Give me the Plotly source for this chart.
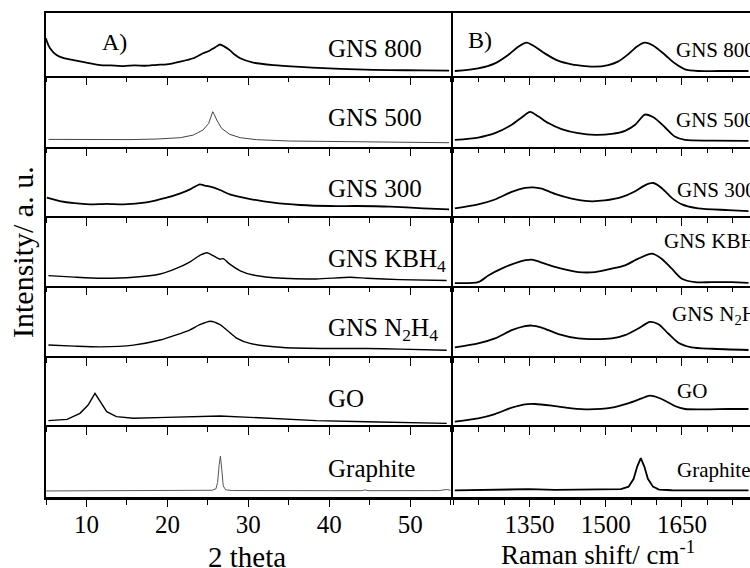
import plotly.graph_objects as go

# ---------------- data: XRD (2 theta, intensity a.u.) ----------------
xrd_names = ["GNS 800", "GNS 500", "GNS 300", "GNS KBH<sub>4</sub>", "GNS N<sub>2</sub>H<sub>4</sub>", "GO", "Graphite"]

xrd_800_x = [5.0, 5.1, 5.5, 6.3, 7.2, 8.4, 10.0, 11.7, 13.0, 14.6, 16.0, 17.4, 18.7, 19.9, 21.6, 23.2, 24.4, 25.2, 25.7, 26.2, 26.5, 27.0, 27.7, 28.3, 29.0, 30.6, 33.1, 36.4, 39.3, 43.4, 47.5, 51.6, 54.8]
xrd_800_y = [60, 55, 44, 33, 28, 25, 21, 17, 16.5, 15.5, 16.5, 16, 17.5, 18, 22.5, 28, 36, 40, 44, 48, 50, 47, 41, 34, 28, 21, 17, 14, 12, 10, 9, 8.5, 8]

xrd_500_x = [5.3, 8.0, 12.5, 15.5, 18.7, 21.6, 23.2, 24.4, 25.1, 25.4, 25.6, 25.8, 26.1, 26.7, 27.7, 29.0, 31.0, 35.1, 41.3, 49.6, 54.8]
xrd_500_y = [10.3, 10.0, 9.4, 10.0, 10.8, 12.7, 16.4, 23.5, 32.9, 42, 49.3, 45, 37.6, 25.8, 17.4, 12.7, 9.9, 8.0, 7.0, 6.1, 5.6]

xrd_300_x = [5.1, 6.7, 8.5, 10.4, 12.5, 14.6, 17.4, 19.9, 21.6, 22.8, 24.0, 24.6, 25.3, 26.5, 27.7, 29.8, 33.1, 36.4, 40.1, 43.4, 47.5, 51.6, 54.8]
xrd_300_y = [26.4, 21.6, 18.5, 16.8, 17.5, 16.8, 19.7, 26.4, 32.7, 38.5, 45.7, 44, 42.3, 37.5, 31.3, 25.5, 19.2, 15.9, 14.4, 14.4, 13.5, 11.1, 9.6]

xrd_kbh_x = [5.3, 8.5, 11.7, 15.8, 19.1, 21.1, 22.8, 24.0, 24.9, 25.7, 26.5, 26.9, 27.7, 29.0, 30.6, 34.3, 38.4, 42.6, 44.6, 48.7, 54.5]
xrd_kbh_y = [14.2, 12.0, 10.4, 11.8, 16.5, 24.5, 34.0, 43.4, 47.2, 42.5, 37.7, 38.7, 30.7, 21.2, 15.1, 10.4, 9.4, 11.8, 10.4, 8.5, 7.1]

xrd_n2h4_x = [5.3, 8.5, 11.7, 15.8, 19.1, 21.1, 22.8, 24.0, 25.3, 26.5, 27.3, 28.6, 30.2, 34.3, 40.5, 44.6, 48.7, 54.5]
xrd_n2h4_y = [15.5, 14.0, 13.0, 15.5, 22.7, 30.0, 37.2, 44.4, 49.3, 44.4, 37.2, 25.1, 17.9, 12.1, 10.6, 10.6, 9.7, 8.2]

xrd_go_x = [5.3, 7.6, 9.2, 10.2, 11.05, 11.7, 12.5, 13.7, 15.8, 19.9, 24.0, 26.5, 30.2, 34.3, 38.4, 44.6, 50.8, 54.5]
xrd_go_y = [6.3, 8.2, 16.9, 29.0, 45.9, 33.8, 19.3, 12.1, 9.7, 11.1, 12.1, 13.0, 11.1, 8.2, 6.3, 4.8, 3.4, 2.4]

xrd_gr_x = [5.0, 20.0, 25.0, 25.5, 26.0, 26.2, 26.4, 26.55, 26.7, 26.9, 27.2, 28.0, 40.0, 44.0, 44.4, 44.8, 53.5, 54.5, 55.0]
xrd_gr_y = [8.0, 8.4, 8.6, 9.0, 11.0, 20.0, 45.0, 56.7, 40.0, 15.0, 9.5, 8.6, 8.4, 8.4, 9.5, 8.4, 8.5, 10.0, 9.0]

# ---------------- data: Raman (shift cm-1, intensity a.u.) ----------------
ram_names = ["GNS 800", "GNS 500", "GNS 300", "GNS KBH<sub>4</sub>", "GNS N<sub>2</sub>H<sub>4</sub>", "GO", "Graphite"]

ram_800_x = [1203, 1249, 1282, 1308, 1328, 1344, 1361, 1380, 1406, 1433, 1459, 1478, 1505, 1524, 1544, 1561, 1577, 1594, 1617, 1636, 1656, 1682, 1721, 1781]
ram_800_y = [7.5, 11.8, 19.8, 33.2, 46.5, 52.9, 46.5, 35.8, 24.1, 18.2, 15.5, 14.4, 17.1, 22.5, 34.2, 46.5, 52.9, 48.1, 33.2, 19.8, 10.2, 7.5, 7.5, 7.5]

ram_500_x = [1203, 1249, 1282, 1315, 1335, 1351, 1367, 1387, 1413, 1446, 1479, 1512, 1538, 1558, 1577, 1594, 1617, 1636, 1656, 1709, 1781]
ram_500_y = [9.5, 12.9, 19.0, 31.0, 41.4, 49.0, 42.9, 33.3, 24.8, 19.0, 16.7, 18.1, 22.4, 31.0, 45.2, 41.4, 27.1, 14.3, 9.5, 8.6, 8.1]

ram_300_x = [1203, 1249, 1282, 1315, 1341, 1357, 1374, 1400, 1433, 1466, 1498, 1531, 1558, 1577, 1594, 1610, 1630, 1650, 1682, 1741, 1781]
ram_300_y = [11.0, 16.7, 23.8, 34.8, 40.5, 41.4, 39.5, 31.9, 25.2, 21.4, 22.4, 27.1, 35.7, 44.3, 47.6, 40.5, 26.2, 16.7, 11.0, 8.6, 7.1]

ram_kbh_x = [1203, 1249, 1269, 1295, 1328, 1354, 1380, 1413, 1446, 1479, 1512, 1538, 1564, 1591, 1610, 1630, 1650, 1676, 1709, 1748, 1781]
ram_kbh_y = [3.4, 4.8, 14.5, 24.2, 33.8, 37.2, 31.4, 24.2, 19.3, 19.3, 24.2, 29.0, 38.6, 45.9, 38.6, 24.2, 9.7, 4.8, 4.8, 4.8, 3.9]

ram_n2h4_x = [1203, 1249, 1282, 1315, 1341, 1354, 1374, 1407, 1446, 1479, 1512, 1538, 1564, 1587, 1604, 1623, 1643, 1669, 1709, 1781]
ram_n2h4_y = [12.2, 17.8, 24.9, 36.6, 42.3, 43.2, 40.4, 31.0, 24.9, 23.9, 24.9, 29.6, 39.0, 48.4, 45.1, 31.9, 18.8, 12.2, 10.3, 8.5]

ram_go_x = [1203, 1249, 1282, 1315, 1341, 1361, 1394, 1433, 1466, 1512, 1544, 1571, 1587, 1610, 1636, 1656, 1696, 1741, 1781]
ram_go_y = [4.8, 9.7, 15.9, 25.1, 30.0, 30.4, 28.0, 24.2, 22.7, 25.1, 31.4, 38.6, 42.5, 37.7, 27.5, 23.2, 22.7, 23.2, 23.2]

ram_gr_x = [1203, 1300, 1350, 1400, 1500, 1530, 1545, 1555, 1562, 1569, 1576, 1583, 1593, 1605, 1630, 1700, 1781]
ram_gr_y = [8.8, 9.5, 10.5, 9.5, 9.5, 10.5, 14.0, 25.0, 42.0, 53.7, 42.0, 25.0, 14.0, 10.0, 9.0, 8.8, 8.8]

xrd_x = [xrd_800_x, xrd_500_x, xrd_300_x, xrd_kbh_x, xrd_n2h4_x, xrd_go_x, xrd_gr_x]
xrd_y = [xrd_800_y, xrd_500_y, xrd_300_y, xrd_kbh_y, xrd_n2h4_y, xrd_go_y, xrd_gr_y]
ram_x = [ram_800_x, ram_500_x, ram_300_x, ram_kbh_x, ram_n2h4_x, ram_go_x, ram_gr_x]
ram_y = [ram_800_y, ram_500_y, ram_300_y, ram_kbh_y, ram_n2h4_y, ram_go_y, ram_gr_y]

# label positions (data units within each panel)
xrd_label_y = [44, 41, 40, 36, 38, 38, 40]
ram_label_x = [1635, 1635, 1636, 1610, 1627, 1636, 1636]
ram_label_y = [41, 38, 37.5, 63, 58, 50, 37]

# ---------------- layout ----------------
W, H = 750, 568
FONT = "Liberation Serif"
bounds = [13.3, 75.7, 146.7, 216.0, 285.5, 356.0, 425.0, 496.7]
left_dom = [46 / W, 450.7 / W]
right_dom = [453.3 / W, 1.0]

fig = go.Figure()
layout = dict(width=W, height=H, margin=dict(l=0, r=0, t=0, b=0), autosize=False,
              paper_bgcolor="white", plot_bgcolor="white", showlegend=False,
              font=dict(family=FONT, color="black"))
annotations = []

xrd_colors = ["black", "#444444", "black", "black", "black", "black", "#555555"]
xrd_widths = [1.8, 1.0, 1.8, 1.4, 1.4, 1.4, 1.0]
xrd_shapes = ["spline", "linear", "spline", "spline", "spline", "linear", "linear"]

for i in range(7):
    ydom = [1 - bounds[i + 1] / H, 1 - bounds[i] / H]
    last = (i == 6)
    for side in range(2):
        k = i + 1 + side * 7
        xa = "xaxis" if k == 1 else f"xaxis{k}"
        ya = "yaxis" if k == 1 else f"yaxis{k}"
        xr = "x" if k == 1 else f"x{k}"
        yr = "y" if k == 1 else f"y{k}"
        if side == 0:
            fig.add_trace(go.Scatter(x=xrd_x[i], y=xrd_y[i], mode="lines", xaxis=xr, yaxis=yr,
                                     line=dict(color=xrd_colors[i], width=xrd_widths[i],
                                               shape=xrd_shapes[i], smoothing=0.6)))
            xax = dict(domain=left_dom, anchor=yr, range=[5, 55], tickmode="linear", tick0=0, dtick=10,
                       minor=dict(tickmode="linear", tick0=0, dtick=5, ticks="outside", ticklen=5,
                                  tickcolor="black", tickwidth=1.2, showgrid=False))
            yax = dict(domain=ydom, anchor=xr, range=[0, 100], mirror=True)
            annotations.append(dict(x=39.6, y=xrd_label_y[i], xref=xr, yref=yr, text=xrd_names[i],
                                    xanchor="left", yanchor="middle", showarrow=False,
                                    font=dict(family=FONT, size=25, color="black")))
        else:
            fig.add_trace(go.Scatter(x=ram_x[i], y=ram_y[i], mode="lines", xaxis=xr, yaxis=yr,
                                     line=dict(color="black", width=1.8,
                                               shape="linear" if last else "spline", smoothing=0.7)))
            xax = dict(domain=right_dom, anchor=yr, range=[1200, 1784], tickmode="array",
                       tickvals=[1350, 1500, 1650],
                       minor=dict(tickmode="linear", tick0=1200, dtick=50, ticks="outside", ticklen=5,
                                  tickcolor="black", tickwidth=1.2, showgrid=False))
            yax = dict(domain=ydom, anchor=xr, range=[0, 100], mirror=False)
            annotations.append(dict(x=ram_label_x[i], y=ram_label_y[i], xref=xr, yref=yr, text=ram_names[i],
                                    xanchor="left", yanchor="middle", showarrow=False,
                                    font=dict(family=FONT, size=21, color="black")))
        xax.update(showgrid=False, zeroline=False, showline=True, linecolor="black",
                   linewidth=3 if last else 1.5, mirror=(i == 0), ticks="outside",
                   ticklen=7 if last else 8, tickwidth=1.2, tickcolor="black", showticklabels=last,
                   ticklabelstandoff=-4,
                   tickfont=dict(family=FONT, size=25, color="black"))
        yax.update(showgrid=False, zeroline=False, showline=True, linecolor="black",
                   linewidth=1.5 if side == 0 else 2, ticks="", showticklabels=False, fixedrange=True)
        layout[xa] = xax
        layout[ya] = yax

annotations.append(dict(x=115 / W, y=1 - 42 / H, xref="paper", yref="paper", text="A)", showarrow=False,
                        xanchor="center", yanchor="middle", font=dict(family=FONT, size=24, color="black")))
annotations.append(dict(x=480 / W, y=1 - 40 / H, xref="paper", yref="paper", text="B)", showarrow=False,
                        xanchor="center", yanchor="middle", font=dict(family=FONT, size=24, color="black")))
annotations.append(dict(x=247 / W, y=1 - 557 / H, xref="paper", yref="paper", text="2 theta", showarrow=False,
                        xanchor="center", yanchor="middle", font=dict(family=FONT, size=29, color="black")))
annotations.append(dict(x=598 / W, y=1 - 553 / H, xref="paper", yref="paper", text="Raman shift/ cm<sup>-1</sup>",
                        showarrow=False, xanchor="center", yanchor="middle",
                        font=dict(family=FONT, size=27, color="black")))
annotations.append(dict(x=22 / W, y=1 - 252 / H, xref="paper", yref="paper", text="Intensity/ a. u.",
                        showarrow=False, textangle=-90, xanchor="center", yanchor="middle",
                        font=dict(family=FONT, size=30, color="black")))
layout["annotations"] = annotations

fig.update_layout(**layout)
fig.write_html("out.html")
